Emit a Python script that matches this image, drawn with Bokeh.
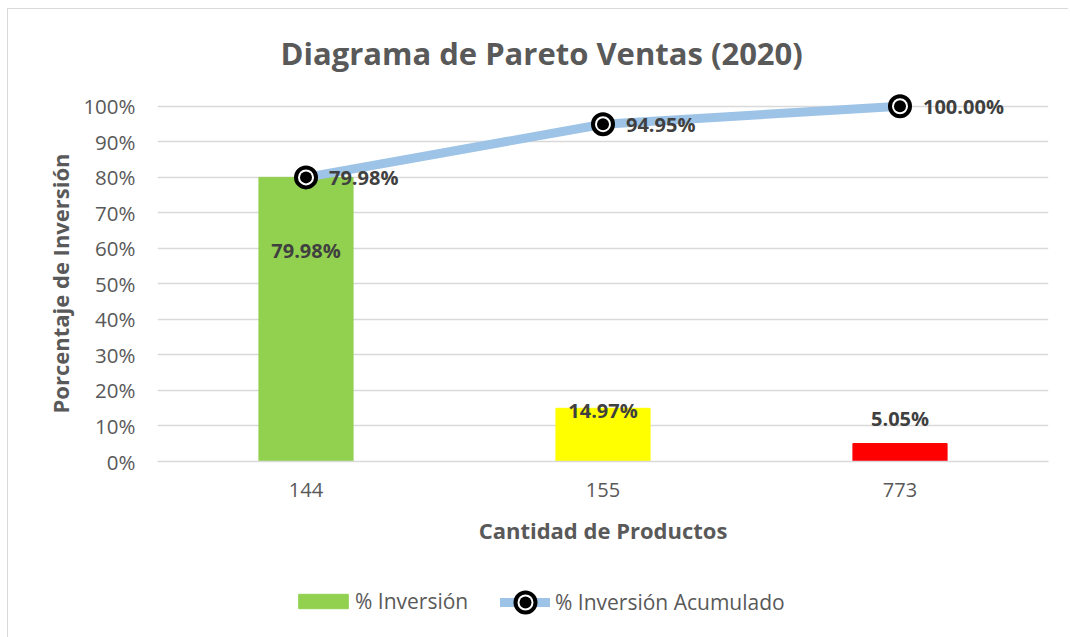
from bokeh.plotting import figure
from bokeh.layouts import column
from bokeh.models import (FactorRange, Range1d, FixedTicker, NumeralTickFormatter,
                          Title, Legend, LegendItem, ColumnDataSource)
from bokeh.core.properties import value
from bokeh.embed import file_html
from bokeh.resources import INLINE

# ---- data ----
categories = ["144", "155", "773"]
pct_inversion = [0.7998, 0.1497, 0.0505]
pct_acumulado = [0.7998, 0.9495, 1.0000]
bar_colors = ["#92D050", "#FFFF00", "#FF0000"]
y_ticks = [0, 0.1, 0.2, 0.3, 0.4, 0.5, 0.6, 0.7, 0.8, 0.9, 1.0]

title_text = "Diagrama de Pareto Ventas (2020)"
x_title = "Cantidad de Productos"
y_title = "Porcentaje de Inversión"
legend_bar = "% Inversión"
legend_line = "% Inversión Acumulado"

FONT = "Open Sans"
GREY = "#595959"
DARK = "#404040"
LINE_BLUE = "#9DC3E6"

W = 1060
H_MAIN = 560
H_LEG = 68

src = ColumnDataSource(dict(cat=categories, inv=pct_inversion, acc=pct_acumulado,
                            color=bar_colors,
                            acc_lbl=[f"{v*100:.2f}%" for v in pct_acumulado]))

# ================= main chart =================
p = figure(width=W, height=H_MAIN,
           x_range=FactorRange(factors=categories, range_padding=0),
           y_range=Range1d(0, 1.05),
           output_backend="svg", toolbar_location=None,
           min_border_left=149, min_border_right=20,
           min_border_top=79, min_border_bottom=108)
p.outline_line_color = None
p.xgrid.grid_line_color = None
p.ygrid.grid_line_color = "#D9D9D9"
p.ygrid.grid_line_width = 1.3
p.ygrid.ticker = FixedTicker(ticks=y_ticks)

p.title.text = title_text
p.title.align = "left"
p.title.offset = 123
p.title.text_font = FONT
p.title.text_font_size = "31px"
p.title.text_font_style = "bold"
p.title.text_color = GREY
p.title.standoff = 30

p.yaxis.ticker = FixedTicker(ticks=y_ticks)
p.yaxis.formatter = NumeralTickFormatter(format="0%")
p.yaxis.axis_line_color = None
p.yaxis.major_tick_line_color = None
p.yaxis.minor_tick_line_color = None
p.yaxis.major_label_standoff = 16
p.yaxis.major_label_text_font = FONT
p.yaxis.major_label_text_font_size = "20.5px"
p.yaxis.major_label_text_color = GREY

p.add_layout(Title(text=y_title, align="left", offset=48, text_font=FONT,
                   text_font_size="22px", text_font_style="bold",
                   text_color=GREY, standoff=12), "left")

p.xaxis.axis_line_color = "#D9D9D9"
p.xaxis.axis_line_width = 1.3
p.xaxis.major_tick_line_color = None
p.xaxis.minor_tick_line_color = None
p.xaxis.major_label_standoff = 15
p.xaxis.major_label_text_font = FONT
p.xaxis.major_label_text_font_size = "20px"
p.xaxis.major_label_text_color = GREY
p.xaxis.axis_label = x_title
p.xaxis.axis_label_standoff = 15
p.xaxis.axis_label_text_font = FONT
p.xaxis.axis_label_text_font_size = "22px"
p.xaxis.axis_label_text_font_style = "bold"
p.xaxis.axis_label_text_color = GREY

p.vbar(x="cat", top="inv", width=0.317, color="color", source=src)
p.line(x="cat", y="acc", line_color=LINE_BLUE, line_width=9,
       line_cap="round", line_join="round", source=src)
p.scatter(x="cat", y="acc", marker="circle", size=20, fill_color="white",
          line_color="black", line_width=4, source=src)
p.scatter(x="cat", y="acc", marker="circle", size=12, fill_color="black",
          line_color=None, source=src)

# data labels for the cumulative line
p.text(x="cat", y="acc", text="acc_lbl", source=src, x_offset=23,
       text_font=value(FONT), text_font_size="20px", text_font_style="bold",
       text_color=DARK, text_align="left", text_baseline="middle")

# data labels for bars (placed like the original)
bar_label_shift = [-0.206, -0.005, 0.07]
bar_lbl_src = ColumnDataSource(dict(cat=categories,
                                    y=[v + s for v, s in zip(pct_inversion, bar_label_shift)],
                                    t=[f"{v*100:.2f}%" for v in pct_inversion]))
p.text(x="cat", y="y", text="t", source=bar_lbl_src,
       text_font=value(FONT), text_font_size="20px", text_font_style="bold",
       text_color=DARK, text_align="center", text_baseline="middle")

# ================= legend strip =================
# same series, drawn out of view (y range far above the data) so only the legend shows
lf = figure(width=W, height=H_LEG,
            x_range=FactorRange(factors=categories, range_padding=0),
            y_range=Range1d(5, 6),
            output_backend="svg", toolbar_location=None,
            x_axis_location=None, y_axis_location=None,
            min_border_left=0, min_border_right=0,
            min_border_top=0, min_border_bottom=0)
lf.outline_line_color = None
lf.xgrid.grid_line_color = None
lf.ygrid.grid_line_color = None

lbar = lf.vbar(x="cat", top="inv", width=0.317, color=bar_colors[0], source=src)
lline = lf.line(x="cat", y="acc", line_color=LINE_BLUE, line_width=9,
                line_cap="round", source=src)
louter = lf.scatter(x="cat", y="acc", marker="circle", fill_color="white",
                    line_color="black", line_width=4, source=src)
linner = lf.scatter(x="cat", y="acc", marker="circle", fill_color="black",
                    line_color=None, source=src)

def mk_legend(items, loc, gw, gh, lh, standoff):
    return Legend(items=items, location=loc, orientation="horizontal",
                  glyph_width=gw, glyph_height=gh, label_height=lh,
                  label_standoff=standoff, padding=0, margin=0, spacing=0,
                  background_fill_alpha=0, border_line_alpha=0,
                  label_text_font=FONT, label_text_font_size="21px",
                  label_text_color=GREY)

lg1 = mk_legend([LegendItem(label=legend_bar, renderers=[lbar])],
                (135, 22), 62, 18, 18, 1)
lg2 = mk_legend([LegendItem(label=legend_line, renderers=[lline, louter])],
                (343, 10), 50, 50, 20, 5)
lg3 = mk_legend([LegendItem(label=" ", renderers=[linner])],
                (353, 20), 30, 30, 20, 0)
for lg in (lg1, lg2, lg3):
    lf.add_layout(lg, "center")

layout = column(p, lf, spacing=0,
                styles={"margin-left": "7px", "margin-top": "8px",
                        "border-left": "1px solid #d9d9d9",
                        "border-top": "1px solid #d9d9d9"})

open("out.html", "w").write(file_html(layout, INLINE))
